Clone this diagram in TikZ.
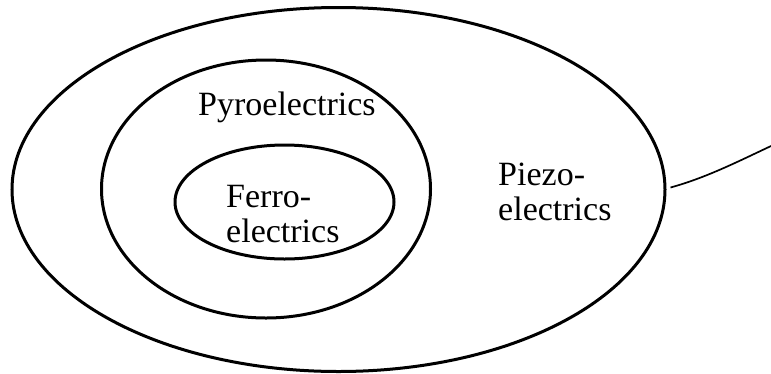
\documentclass[tikz,border=0pt]{standalone}
\usepackage{fontspec}
\setmainfont{Liberation Serif}
\usetikzlibrary{shapes.geometric}
\begin{document}
\begin{tikzpicture}[x=1pt,y=-1pt,
  ring/.style={draw=black,line width=3pt,ellipse,inner sep=0pt,fill=none},
  lbl/.style={inner sep=0pt,anchor=base west,align=left,font=\fontsize{34}{34.5}\selectfont},
  lead/.style={draw=black,line width=1.7pt}]
\useasboundingbox (0,0) rectangle (771,373);
\node[ring,minimum width=653pt,minimum height=364pt] (outer) at (338.5,189.5) {};
\node[ring,minimum width=329pt,minimum height=258pt] (middle) at (266,189) {};
\node[ring,minimum width=219pt,minimum height=114pt] (inner) at (284.5,202) {};
\node[lbl] (pyro) at (198,115) {Pyroelectrics};
\node[lbl] (ferro) at (226,242) {Ferro-\\electrics};
\node[lbl] (piezo) at (498,220) {Piezo-\\electrics};
\coordinate (tail) at (771,146);
\draw[lead] (outer.east) ++(4pt,2pt) coordinate (head) .. controls (705,178) and (735,163) .. (tail);
\end{tikzpicture}
\end{document}
